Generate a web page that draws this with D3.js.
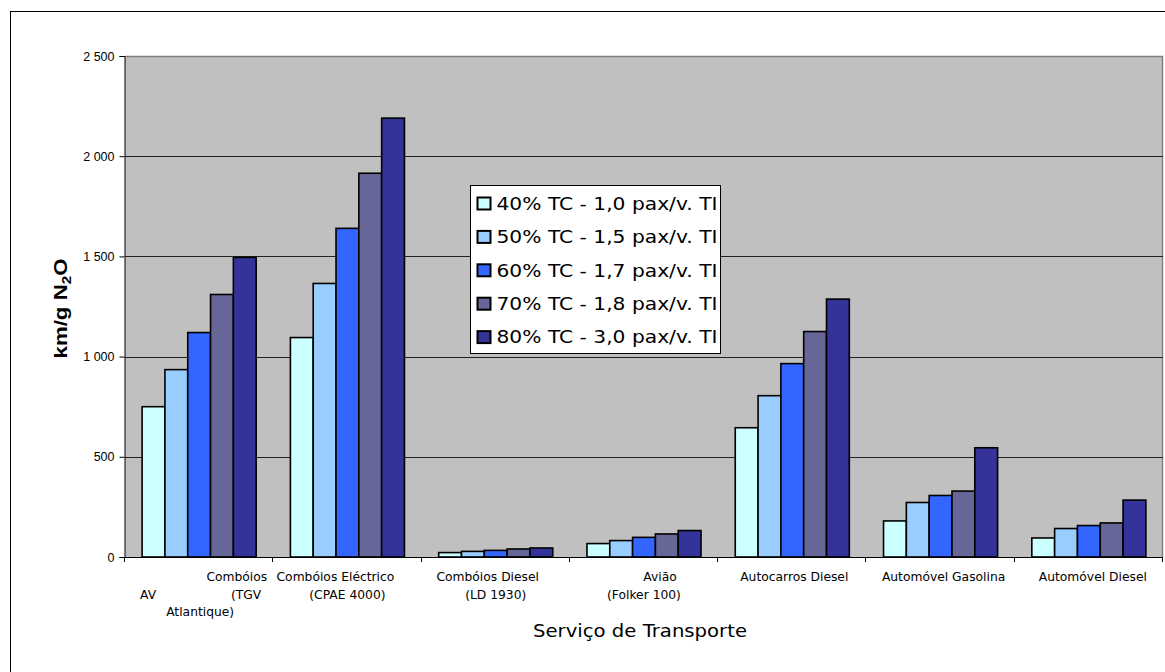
<!DOCTYPE html>
<html>
<head>
<meta charset="utf-8">
<script src="https://cdn.jsdelivr.net/npm/d3@7"></script>
<style>
  body { margin: 0; background: #fff; }
  svg { display: block; }
</style>
</head>
<body>
<div id="chart"></div>
<script>
// categories and series
const categories = [
  "AV Combóios (TGV Atlantique)",
  "Combóios Eléctrico (CPAE 4000)",
  "Combóios Diesel (LD 1930)",
  "Avião (Folker 100)",
  "Autocarros Diesel",
  "Automóvel Gasolina",
  "Automóvel Diesel"
];
const categoryLines = [
  ["Combóios", "AV|(TGV", "Atlantique)"],
  ["Combóios Eléctrico", "(CPAE 4000)"],
  ["Combóios Diesel", "(LD 1930)"],
  ["Avião", "(Folker 100)"],
  ["Autocarros Diesel"],
  ["Automóvel Gasolina"],
  ["Automóvel Diesel"]
];
const seriesNames = [
  "40% TC - 1,0 pax/v. TI",
  "50% TC - 1,5 pax/v. TI",
  "60% TC - 1,7 pax/v. TI",
  "70% TC - 1,8 pax/v. TI",
  "80% TC - 3,0 pax/v. TI"
];
const s40 = [750, 1095, 22, 67, 645, 180, 95];
const s50 = [935, 1365, 28, 82, 805, 272, 142];
const s60 = [1120, 1640, 33, 98, 965, 307, 157];
const s70 = [1310, 1915, 40, 115, 1125, 329, 170];
const s80 = [1495, 2190, 45, 132, 1287, 545, 284];
const seriesValues = [s40, s50, s60, s70, s80];
const yTicks = [0, 500, 1000, 1500, 2000, 2500];
const colors = ["#CCFFFF", "#99CCFF", "#3366FF", "#666699", "#333399"];

const width = 1165;
const height = 672;
const plot = { left: 125, right: 1163, top: 56, bottom: 557 };

const svg = d3.select("#chart")
  .append("svg")
  .attr("width", width)
  .attr("height", height);

// outer chart frame
svg.append("rect")
  .attr("x", 10.5).attr("y", 11.5)
  .attr("width", width).attr("height", height)
  .attr("fill", "#fff")
  .attr("stroke", "#000").attr("stroke-width", 1);

const x = d3.scaleBand()
  .domain(d3.range(categories.length))
  .range([plot.left, plot.right])
  .paddingInner(0).paddingOuter(0);

// Excel style gap: 150% of a bar width split on both sides
const xs = d3.scaleBand()
  .domain(d3.range(seriesNames.length))
  .range([0, x.bandwidth()])
  .paddingInner(0)
  .paddingOuter(0.75);

const y = d3.scaleLinear().domain([0, 2500]).range([plot.bottom, plot.top]);

// plot area
svg.append("rect")
  .attr("x", plot.left).attr("y", plot.top)
  .attr("width", plot.right - plot.left).attr("height", plot.bottom - plot.top)
  .attr("fill", "#C0C0C0");
svg.append("path")
  .attr("d", `M${plot.left},${plot.top + 0.5}H${plot.right - 0.5}V${plot.bottom}`)
  .attr("fill", "none").attr("stroke", "#808080").attr("stroke-width", 1.5);

// gridlines
svg.append("g")
  .selectAll("line")
  .data(yTicks.filter(d => d > 0 && d < 2500))
  .join("line")
  .attr("x1", plot.left).attr("x2", plot.right)
  .attr("y1", d => Math.round(y(d)) + 0.5).attr("y2", d => Math.round(y(d)) + 0.5)
  .attr("stroke", "#222").attr("stroke-width", 1);

// bars
const groups = svg.append("g")
  .selectAll("g")
  .data(seriesValues)
  .join("g")
  .attr("fill", (d, i) => colors[i]);

groups.selectAll("rect")
  .data((vals, si) => vals.map((v, ci) => ({ v, ci, si })))
  .join("rect")
  .attr("x", d => x(d.ci) + xs(d.si))
  .attr("y", d => y(d.v))
  .attr("width", xs.bandwidth())
  .attr("height", d => y(0) - y(d.v))
  .attr("stroke", "#000")
  .attr("stroke-width", 1.6);

// y axis
const fmt = v => d3.format(",")(v).replace(/,/g, " ");
const yAxis = svg.append("g")
  .attr("transform", `translate(${plot.left - 0.5},0)`)
  .call(d3.axisLeft(y).tickValues(yTicks).tickFormat(fmt).tickSize(5).tickPadding(5));
yAxis.select(".domain").attr("stroke", "#000");
yAxis.selectAll("text")
  .attr("font-family", "Liberation Sans, Arial, sans-serif")
  .attr("font-size", 12.5)
  .attr("fill", "#000");

// x axis line and ticks
svg.append("line")
  .attr("x1", plot.left).attr("x2", plot.right)
  .attr("y1", plot.bottom + 0.5).attr("y2", plot.bottom + 0.5)
  .attr("stroke", "#000");
svg.append("g")
  .selectAll("line")
  .data(d3.range(categories.length + 1))
  .join("line")
  .attr("x1", i => Math.round(plot.left + i * x.step()) - 0.5)
  .attr("x2", i => Math.round(plot.left + i * x.step()) - 0.5)
  .attr("y1", plot.bottom).attr("y2", plot.bottom + 5)
  .attr("stroke", "#000");

// category labels (first lines of wrapped labels sit a bit off centre, as in Excel)
const labelFont = "DejaVu Sans, Verdana, sans-serif";
const firstLineShift = [0, -12, -8, 16, 2, 3, 4];
const labels = svg.append("g")
  .attr("font-family", labelFont)
  .attr("font-size", 12.3)
  .attr("fill", "#000");
categoryLines.forEach((lines, ci) => {
  const cx = x(ci) + x.bandwidth() / 2;
  lines.forEach((line, li) => {
    const ly = 581 + li * 17.5;
    if (line.includes("|")) {
      const [a, b] = line.split("|");
      labels.append("text").attr("x", x(ci) + 15).attr("y", ly)
        .attr("text-anchor", "start").text(a);
      labels.append("text").attr("x", cx + 62).attr("y", ly)
        .attr("text-anchor", "end").text(b);
    } else if (ci === 0 && li === 0) {
      labels.append("text").attr("x", cx + 68).attr("y", ly)
        .attr("text-anchor", "end").text(line);
    } else {
      labels.append("text")
        .attr("x", cx + (li === 0 ? firstLineShift[ci] : 0) + (ci === 0 ? 1 : 0))
        .attr("y", ly)
        .attr("text-anchor", "middle").text(line);
    }
  });
});

// axis titles
svg.append("text")
  .attr("x", 640)
  .attr("y", 637)
  .attr("text-anchor", "middle")
  .attr("font-family", labelFont)
  .attr("font-size", 17)
  .attr("textLength", 214)
  .attr("lengthAdjust", "spacingAndGlyphs")
  .text("Serviço de Transporte");

const yTitle = svg.append("text")
  .attr("transform", `translate(67,${(plot.top + plot.bottom) / 2 + 2}) rotate(-90)`)
  .attr("text-anchor", "middle")
  .attr("font-family", "Liberation Sans, Arial, sans-serif")
  .attr("font-size", 19)
  .attr("font-weight", "bold");
yTitle.append("tspan").text("km/g N");
yTitle.append("tspan").attr("font-size", 13).attr("dy", 4).text("2");
yTitle.append("tspan").attr("dy", -4).text("O");
// stretch the title to the length seen in the reference
const yLen = yTitle.node().getComputedTextLength();
yTitle.attr("transform",
  `translate(67,${(plot.top + plot.bottom) / 2 + 2}) rotate(-90) scale(${100 / yLen},1)`);

// legend
const legend = svg.append("g").attr("transform", "translate(470.5,185.5)");
legend.append("rect")
  .attr("width", 250).attr("height", 168)
  .attr("fill", "#fff").attr("stroke", "#000");
const item = legend.selectAll("g.item")
  .data(seriesNames)
  .join("g")
  .attr("class", "item")
  .attr("transform", (d, i) => `translate(0,${18 + i * 33.4})`);
item.append("rect")
  .attr("x", 7).attr("y", -6)
  .attr("width", 13).attr("height", 12)
  .attr("fill", (d, i) => colors[i])
  .attr("stroke", "#000").attr("stroke-width", 2);
item.append("text")
  .attr("x", 26).attr("y", 0).attr("dy", "0.36em")
  .attr("font-family", labelFont)
  .attr("font-size", 17.5)
  .attr("textLength", 221)
  .attr("lengthAdjust", "spacingAndGlyphs")
  .text(d => d);
</script>
</body>
</html>
